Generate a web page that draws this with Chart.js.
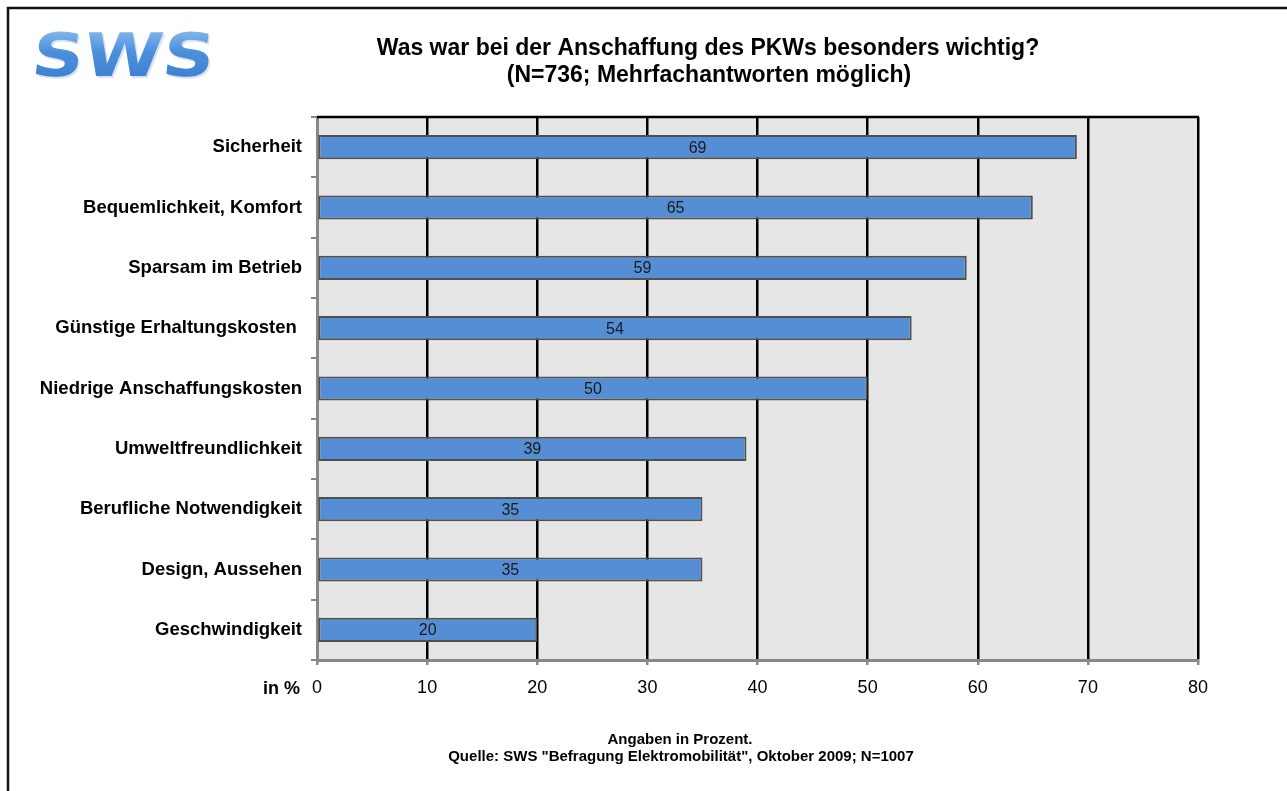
<!DOCTYPE html>
<html>
<head>
<meta charset="utf-8">
<script src="https://cdn.jsdelivr.net/npm/chart.js@4/dist/chart.umd.min.js"></script>
<style>
  html, body { margin: 0; padding: 0; background: #fff; }
  #wrap { width: 1287px; height: 791px; }
</style>
</head>
<body>
<div id="wrap"><canvas id="kaufChart" width="1287" height="791"></canvas></div>
<script>
// Kriterien und Anteile in Prozent
const kriterien = [
  'Sicherheit',
  'Bequemlichkeit, Komfort',
  'Sparsam im Betrieb',
  'Günstige Erhaltungskosten ',
  'Niedrige Anschaffungskosten',
  'Umweltfreundlichkeit',
  'Berufliche Notwendigkeit',
  'Design, Aussehen',
  'Geschwindigkeit'
];
const anteile = [69, 65, 59, 54, 50, 39, 35, 35, 20];
const xTicks = [0, 10, 20, 30, 40, 50, 60, 70, 80];

const titelZeilen = [
  'Was war bei der Anschaffung des PKWs besonders wichtig?',
  '(N=736; Mehrfachantworten möglich)'
];
const fussZeilen = [
  'Angaben in Prozent.',
  'Quelle: SWS "Befragung Elektromobilität", Oktober 2009; N=1007'
];

const FONT = '"Liberation Sans", Arial, sans-serif';

// Rahmen, Logo, Titel, Fußnote und grauer Plot-Hintergrund
const dekoPlugin = {
  id: 'deko',
  beforeDraw(chart) {
    const { ctx, chartArea: a } = chart;
    ctx.save();
    ctx.fillStyle = '#fff';
    ctx.fillRect(0, 0, chart.width, chart.height);

    // äußerer Rahmen
    ctx.strokeStyle = '#111';
    ctx.lineWidth = 2.5;
    ctx.strokeRect(8, 8, chart.width + 20, chart.height + 20);

    // Plotfläche
    ctx.fillStyle = '#e6e6e6';
    ctx.fillRect(a.left, a.top, a.right - a.left, a.bottom - a.top);

    // Logo
    ctx.font = 'bold 60px "DejaVu Sans", sans-serif';
    const w = ctx.measureText('SWS').width;
    ctx.setTransform(182 / w, 0, -0.12, 1, 30, 76);
    const g = ctx.createLinearGradient(0, -44, 0, 0);
    g.addColorStop(0, '#7fb4ec');
    g.addColorStop(0.45, '#4c8fdc');
    g.addColorStop(1, '#3f82d2');
    ctx.fillStyle = 'rgba(130,160,200,0.3)';
    ctx.fillText('SWS', 1.5, 1.5);
    ctx.fillStyle = g;
    ctx.fillText('SWS', 0, 0);
    ctx.setTransform(1, 0, 0, 1, 0, 0);

    // Titel
    ctx.fillStyle = '#000';
    ctx.textAlign = 'center';
    ctx.textBaseline = 'middle';
    ctx.font = 'bold 23px ' + FONT;
    ctx.fillText(titelZeilen[0], 708, 49);
    ctx.fillText(titelZeilen[1], 709, 76);

    // Fußnote
    ctx.font = 'bold 15px ' + FONT;
    ctx.fillText(fussZeilen[0], 680, 740);
    ctx.fillText(fussZeilen[1], 681, 757);

    // Achsenbeschriftung
    ctx.textAlign = 'right';
    ctx.font = 'bold 18px ' + FONT;
    ctx.fillText('in %', 300, 689);
    ctx.restore();
  },
  afterDraw(chart) {
    // schwarze Oberkante der Plotfläche
    const { ctx, chartArea: a } = chart;
    ctx.save();
    ctx.strokeStyle = '#000';
    ctx.lineWidth = 2.5;
    ctx.beginPath();
    ctx.moveTo(a.left, a.top);
    ctx.lineTo(a.right + 1, a.top);
    ctx.stroke();
    ctx.restore();
  }
};

// Werte mittig in die Balken schreiben
const werteLabels = {
  id: 'werteLabels',
  afterDatasetsDraw(chart) {
    const { ctx } = chart;
    const meta = chart.getDatasetMeta(0);
    ctx.save();
    ctx.font = '16px ' + FONT;
    ctx.fillStyle = '#1a1a1a';
    ctx.textAlign = 'center';
    ctx.textBaseline = 'middle';
    meta.data.forEach((bar, i) => {
      ctx.fillText(String(anteile[i]), (bar.base + bar.x) / 2, bar.y + 1);
    });
    ctx.restore();
  }
};

new Chart(document.getElementById('kaufChart'), {
  type: 'bar',
  data: {
    labels: kriterien,
    datasets: [{
      data: anteile,
      backgroundColor: '#558ed5',
      borderColor: '#505050',
      borderWidth: 2,
      borderSkipped: false,
      barPercentage: 0.4,
      categoryPercentage: 1
    }]
  },
  options: {
    indexAxis: 'y',
    responsive: false,
    animation: false,
    layout: { padding: { top: 117, right: 89, bottom: 86, left: 10 } },
    plugins: {
      legend: { display: false },
      tooltip: { enabled: false }
    },
    scales: {
      x: {
        min: 0,
        max: 80,
        afterBuildTicks: (axis) => { axis.ticks = xTicks.map(v => ({ value: v })); },
        afterFit: (axis) => { axis.height = 45; },
        grid: {
          color: (c) => (c.tick && c.tick.value === 0 ? 'rgba(0,0,0,0)' : '#000'),
          lineWidth: 2.5,
          tickColor: '#888',
          tickLength: 5
        },
        border: { color: '#888', width: 3 },
        ticks: {
          color: '#000',
          padding: 12,
          font: { family: FONT, size: 18 }
        }
      },
      y: {
        afterFit: (axis) => { axis.width = 307; },
        grid: {
          drawOnChartArea: false,
          offset: true,
          tickColor: '#888',
          tickLength: 6,
          lineWidth: 2
        },
        border: { color: '#888', width: 3 },
        ticks: {
          color: '#000',
          padding: 9,
          font: { family: FONT, size: 18.5, weight: 'bold' }
        }
      }
    }
  },
  plugins: [dekoPlugin, werteLabels]
});
</script>
</body>
</html>
